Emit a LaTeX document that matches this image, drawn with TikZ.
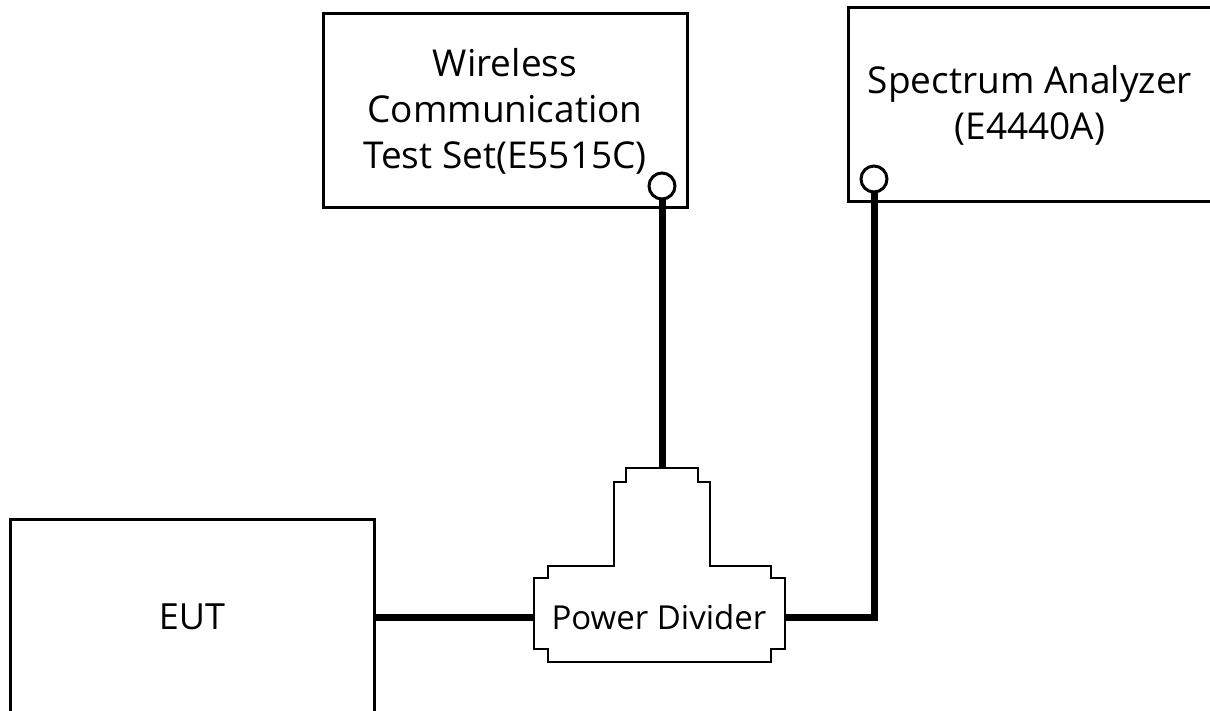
\documentclass[tikz,border=0pt]{standalone}
\usepackage{fontspec}
\setmainfont{Open Sans}
\usetikzlibrary{positioning}

\begin{document}
\begin{tikzpicture}[x=0.5pt, y=-0.5pt,
every node/.style={align=center, font=\fontsize{18.5}{23}\selectfont},
unit/.style={draw, line width=1.5pt, inner sep=0pt, minimum width=182pt, minimum height=97pt},
port/.style={draw, circle, line width=1.5pt, inner sep=0pt, minimum size=13pt},
cable/.style={line width=3.5pt}]

\useasboundingbox (0,0) rectangle (1210,711);

% Instruments
\node[unit] (tester) at (505,111)
{Wireless \\ Communication \\ Test Set(E5515C)};

\node[unit] (analyzer) at (1030,105)
{Spectrum Analyzer \\ (E4440A)};

\node[unit, minimum height=98pt, font=\fontsize{18}{23}\selectfont] (eut) at (192,617)
{EUT};

% Ports
\node[port] (testerport) at (662,186) {};
\node[port] (analyzerport) at (874,179) {};

% Power Divider
\draw[line width=0.8pt] (626,468) -- (698,468) -- (698,482) -- (710,482)
-- (710,566) -- (771,566) -- (771,578) -- (785,578) -- (785,649)
-- (771,649) -- (771,662) -- (548,662) -- (548,649) -- (534,649)
-- (534,578) -- (548,578) -- (548,566) -- (614,566) -- (614,482)
-- (626,482) -- cycle;
\node[font=\fontsize{16.5}{20}\selectfont] (divider) at (659,617) {Power Divider};
\coordinate (dividertop) at (662,468);
\coordinate (dividerin) at (534,617);
\coordinate (dividerout) at (785,617);

% Cables
\draw[cable] (testerport) -- (dividertop);
\draw[cable] (analyzerport) |- (dividerout);
\draw[cable] (eut) -- (dividerin);

\end{tikzpicture}
\end{document}
